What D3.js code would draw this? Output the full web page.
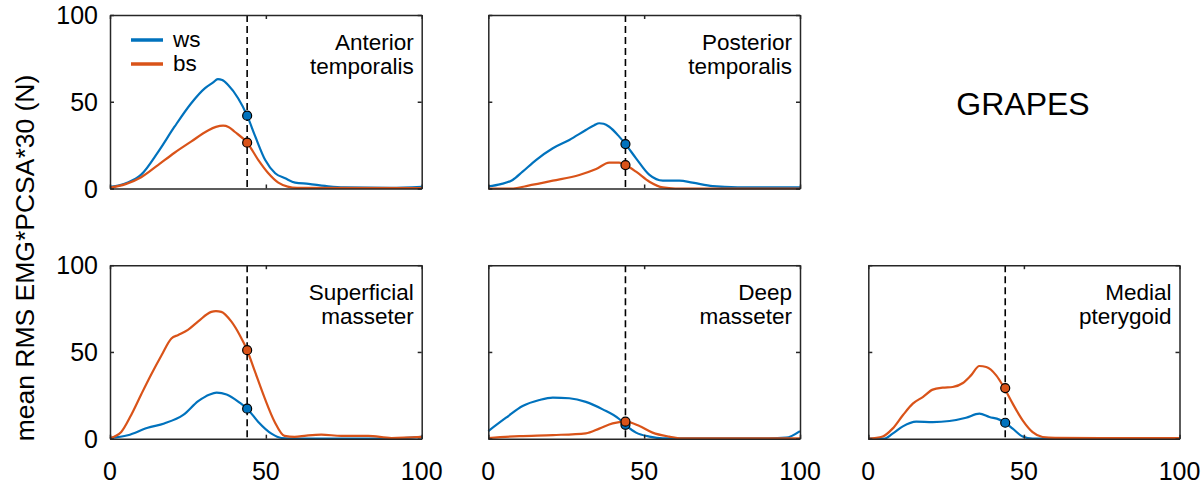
<!DOCTYPE html>
<html>
<head>
<meta charset="utf-8">
<script src="https://cdn.jsdelivr.net/npm/d3@7"></script>
<style>
    body { margin: 0; background: #fff; }
    text { font-family: "Liberation Sans", Arial, sans-serif; fill: #000; }
    .line { fill: none; stroke-width: 2.2; }
</style>
</head>
<body>
<svg id="chart" width="1204" height="488"></svg>
<script>
// [t (% of cycle), value]
let antTempWs = [[0,1],[3,1.8],[5.7,3.4],[10,8],[15.4,21],[20.7,35.6],[26,49],[30.4,57.7],[33,61],[34.6,63],[36,62.5],[37.9,59.6],[41.1,52],[44,42],[46.6,30],[49.8,16.4],[53,8.8],[56.2,5.9],[59.4,3.4],[63.7,2.7],[69,1.5],[75,0.6],[90,0.4],[100,1]];
let antTempBs = [[0,0.5],[5,2.5],[10,6.5],[15.4,13.5],[20.7,20.6],[26,27],[31.3,33.3],[34,35.5],[36.3,36.2],[38,35.5],[40,32.7],[44,26.4],[47.6,16.4],[50.8,8.8],[54,3.4],[57,1.1],[60,0.4],[100,0.3]];
let postTempWs = [[0,1.2],[4,2.5],[7.8,4.9],[11,9.7],[15.3,16.4],[20.7,23.2],[26,28],[31.3,33.7],[34,36.5],[35.6,37.6],[37,37.3],[38.8,35.6],[42,29.9],[44,25.6],[47.4,17.4],[51.7,7.8],[56,4.5],[61.3,4.5],[65.5,3.4],[72,1.4],[80,0.7],[100,0.6]];
let postTempBs = [[0,0],[8,0],[12.2,1.4],[20.7,4.5],[29.2,7.8],[34.6,11.2],[38.8,14.9],[42,14.9],[44,13.5],[47.4,9.7],[51.7,3.9],[56,0.6],[60,0],[100,0]];
let supMassWs = [[0,0.4],[5.7,2],[12.1,6.3],[17.4,8.8],[23.5,13.7],[28.3,21.6],[32,25.5],[34.2,26.5],[37.4,25.5],[41.7,20.6],[44,17.3],[47.5,9.8],[51.8,2.9],[55,0.4],[60,0],[90,0],[100,1]];
let supMassBs = [[0,0.4],[3.6,3.9],[6.8,13.7],[10,25.5],[13.3,37.3],[16.5,48],[19.7,57.8],[21.9,59.8],[25,62.7],[28.3,67.6],[32.5,73.1],[34,73.5],[35.7,73.1],[38.9,67.6],[41.6,59.8],[44,51],[46.4,39.2],[49.6,23.5],[52.8,9.8],[56,1.6],[59.2,1],[63,1.8],[67.8,2.4],[74.2,1.6],[82.8,1.6],[90.3,0.4],[100,1]];
let deepMassWs = [[0,4.4],[5.7,12.1],[11,18.8],[16.4,22.3],[20.7,23.7],[26,23.3],[31.3,21.2],[36.7,16.9],[42.1,11.2],[44,8],[47.4,3.5],[51.7,1.2],[56,0.2],[90,0.2],[95.5,0.6],[100,4.4]];
let deepMassBs = [[0,0.4],[10,1.5],[20.7,2.1],[31.3,3.1],[35.6,5.8],[39.9,8.8],[44,9.8],[48.5,7.3],[52.7,3.5],[58,1.2],[62,0.2],[100,0.2]];
let medPteryWs = [[0,0],[5,0],[7.8,2.9],[11.1,7.1],[15.4,9.8],[20.7,9.6],[26.1,10.2],[31.4,12.1],[35.7,14.4],[38.9,12.5],[42.1,11],[44,9.2],[46.4,5.8],[49.6,1.3],[52.8,0],[100,0.3]];
let medPteryBs = [[0,0],[4.6,1.3],[7.8,5.8],[11.1,13.5],[14.3,20.2],[17.5,24],[20.7,28.3],[23.9,29.4],[27.1,29.8],[30.4,32.1],[33,36.5],[35.7,41.9],[37.9,41.3],[41.1,36.5],[43.7,29.2],[46.4,20.2],[49.6,10.6],[52.8,3.8],[56,1],[60,0.5],[100,0.3]];

let muscleNames = [["Anterior", "temporalis"], ["Posterior", "temporalis"], ["Superficial", "masseter"], ["Deep", "masseter"], ["Medial", "pterygoid"]];
let wsSeries = [antTempWs, postTempWs, supMassWs, deepMassWs, medPteryWs];
let bsSeries = [antTempBs, postTempBs, supMassBs, deepMassBs, medPteryBs];
let wsDots = [42, 25.6, 17.3, 8, 9.2];
let bsDots = [26.4, 13.5, 51, 9.8, 29.2];
let markerT = 44;
let legendLabels = ["ws", "bs"];
let xTicks = [0, 50, 100];
let yTicks = [0, 50, 100];
let foodLabel = "GRAPES";
let yLabel = "mean RMS EMG*PCSA*30 (N)";

let blue = "#0072BD";
let orange = "#D95319";
let axisColor = "#262626";

// panel grid: row, col
let panelPos = [[0, 0], [0, 1], [1, 0], [1, 1], [1, 2]];
let colRanges = [[110, 421.7], [488.3, 800], [868.3, 1179.5]];
let rowRanges = [[188.5, 15], [438.7, 265.2]];

let svg = d3.select("#chart");

function plot_panel(i) {
    let [row, col] = panelPos[i];
    let x = d3.scaleLinear().domain([0, 100]).range(colRanges[col]);
    let y = d3.scaleLinear().domain([0, 100]).range(rowRanges[row]);
    let g = svg.append("g");
    let [x0, x1] = x.range();
    let [y0, y1] = y.range();

    let line = d3.line()
        .x(d => x(d[0]))
        .y(d => y(d[1]))
        .curve(d3.curveMonotoneX);

    g.append("path")
        .datum(wsSeries[i])
        .attr("class", "line")
        .attr("stroke", blue)
        .attr("d", line);

    g.append("path")
        .datum(bsSeries[i])
        .attr("class", "line")
        .attr("stroke", orange)
        .attr("d", line);

    g.append("line")
        .attr("x1", x(markerT)).attr("x2", x(markerT))
        .attr("y1", y1).attr("y2", y0)
        .attr("stroke", "#000")
        .attr("stroke-width", 1.6)
        .attr("stroke-dasharray", "7,4");

    // box with inner ticks on all four sides
    let bottomAx = g.append("g")
        .attr("transform", `translate(0, ${y0})`)
        .call(d3.axisBottom(x).tickValues(xTicks).tickSizeInner(-4).tickSizeOuter(0).tickFormat(""));
    let topAx = g.append("g")
        .attr("transform", `translate(0, ${y1})`)
        .call(d3.axisTop(x).tickValues(xTicks).tickSizeInner(-4).tickSizeOuter(0).tickFormat(""));
    let leftAx = g.append("g")
        .attr("transform", `translate(${x0}, 0)`)
        .call(d3.axisLeft(y).tickValues(yTicks).tickSizeInner(-4).tickSizeOuter(0).tickFormat(""));
    let rightAx = g.append("g")
        .attr("transform", `translate(${x1}, 0)`)
        .call(d3.axisRight(y).tickValues(yTicks).tickSizeInner(-4).tickSizeOuter(0).tickFormat(""));
    [bottomAx, topAx, leftAx, rightAx].forEach(a => {
        a.selectAll("path, line").attr("stroke", axisColor).attr("stroke-width", 1.5);
    });

    if (row == 1) {
        g.selectAll(".xlab")
            .data(xTicks)
            .enter().append("text")
                .attr("x", d => x(d))
                .attr("y", 480)
                .attr("text-anchor", "middle")
                .attr("font-size", "25px")
                .text(d => d);
    }
    if (col == 0) {
        g.selectAll(".ylab")
            .data(yTicks)
            .enter().append("text")
                .attr("x", x0 - 12)
                .attr("y", d => y(d) + 9)
                .attr("text-anchor", "end")
                .attr("font-size", "25px")
                .text(d => d);
    }

    g.selectAll(".name")
        .data(muscleNames[i])
        .enter().append("text")
            .attr("x", x1 - 8)
            .attr("y", (d, k) => y1 + 35 + k * 24)
            .attr("text-anchor", "end")
            .attr("font-size", "22.5px")
            .text(d => d);

    g.append("circle")
        .attr("cx", x(markerT)).attr("cy", y(wsDots[i]))
        .attr("r", 4.5)
        .attr("fill", blue).attr("stroke", "#000").attr("stroke-width", 1.2);
    g.append("circle")
        .attr("cx", x(markerT)).attr("cy", y(bsDots[i]))
        .attr("r", 4.5)
        .attr("fill", orange).attr("stroke", "#000").attr("stroke-width", 1.2);

    if (i == 0) {
        let leg = g.selectAll(".leg")
            .data(legendLabels)
            .enter().append("g")
                .attr("transform", (d, k) => `translate(${x0 + 21}, ${y1 + 25 + k * 24})`);
        leg.append("line")
            .attr("x1", 0).attr("x2", 32)
            .attr("stroke", (d, k) => k == 0 ? blue : orange)
            .attr("stroke-width", 3.5);
        leg.append("text")
            .attr("x", 42).attr("y", 7)
            .attr("font-size", "22.5px")
            .text(d => d);
    }
}

d3.range(muscleNames.length).forEach(plot_panel);

svg.append("text")
    .attr("x", 1023).attr("y", 115)
    .attr("text-anchor", "middle")
    .attr("font-size", "32px")
    .text(foodLabel);

svg.append("text")
    .attr("transform", "translate(34, 258) rotate(-90)")
    .attr("text-anchor", "middle")
    .attr("font-size", "26.5px")
    .text(yLabel);
</script>
</body>
</html>
